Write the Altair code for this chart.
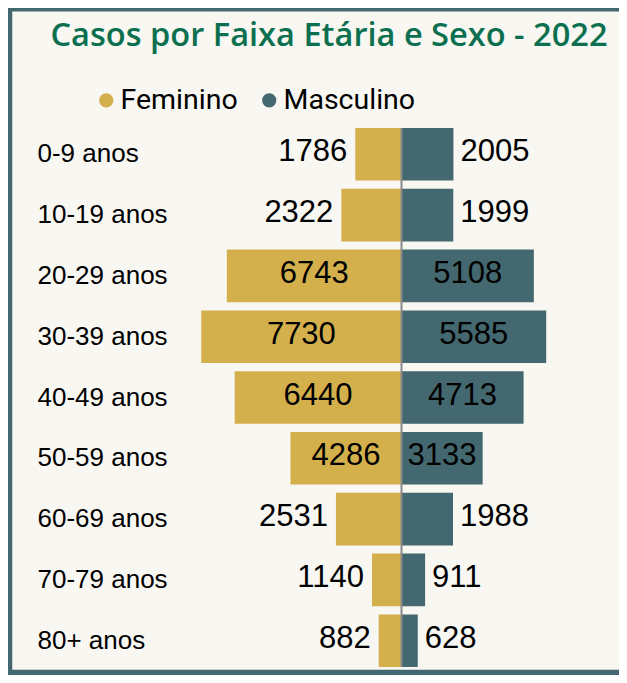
import altair as alt
import pandas as pd

TITLE = "Casos por Faixa Etária e Sexo - 2022"
AGES = ["0-9 anos", "10-19 anos", "20-29 anos", "30-39 anos", "40-49 anos",
        "50-59 anos", "60-69 anos", "70-79 anos", "80+ anos"]
FEMININO = [1786, 2322, 6743, 7730, 6440, 4286, 2531, 1140, 882]
MASCULINO = [2005, 1999, 5108, 5585, 4713, 3133, 1988, 911, 628]
SEXES = ["Feminino", "Masculino"]
COLORS = ["#d4b04c", "#44686f"]

BG = "#f8f7f2"
BORDER = "#44686f"
GREEN = "#0c7050"
W, H = 611, 667
Y0, Y1 = 120, 659

rows = []
for a, f, m in zip(AGES, FEMININO, MASCULINO):
    rows.append({"faixa": a, "sexo": "Feminino", "casos": f})
    rows.append({"faixa": a, "sexo": "Masculino", "casos": m})
df = pd.DataFrame(rows)

xscale = alt.Scale(domain=[-393.5 * 38.6, (W - 393.5) * 38.6], nice=False, zero=False)
yscale = alt.Scale(range=[Y0, Y1], paddingInner=0.135, paddingOuter=0)

base = alt.Chart(df).transform_calculate(
    sx="datum.sexo == 'Feminino' ? -datum.casos : datum.casos",
    mid="(datum.sexo == 'Feminino' ? -datum.casos : datum.casos) / 2",
)

y_enc = alt.Y(
    "faixa:N", sort=AGES, scale=yscale, title=None,
    axis=alt.Axis(domain=False, ticks=False, labelAlign="left", labelPadding=0,
                  offset=-29, labelFont="Liberation Sans", labelFontSize=26,
                  labelColor="#000000", labelBaseline="middle"),
)

bars = base.mark_bar().encode(
    x=alt.X("sx:Q", scale=xscale, axis=None),
    x2=alt.datum(0),
    y=y_enc,
    color=alt.Color(
        "sexo:N",
        scale=alt.Scale(domain=SEXES, range=COLORS),
        legend=alt.Legend(
            title=None, orient="none", legendX=84, legendY=78, direction="horizontal",
            symbolType="circle", symbolSize=200, symbolStrokeWidth=0, symbolOpacity=1,
            labelFont="Roboto", labelFontSize=28.5, labelColor="#000000",
            labelOffset=0, columnPadding=17,
        ),
    ),
)

label_style = dict(font="Liberation Sans", fontSize=31, color="#000000", baseline="middle", dy=-2)

inside = base.transform_filter("datum.casos >= 3000").mark_text(align="center", **label_style).encode(
    x=alt.X("mid:Q", scale=xscale, axis=None), y=alt.Y("faixa:N", sort=AGES), text="casos:Q"
)
out_f = base.transform_filter("datum.casos < 3000 && datum.sexo == 'Feminino'").mark_text(
    align="right", dx=-8, **label_style
).encode(x=alt.X("sx:Q", scale=xscale, axis=None), y=alt.Y("faixa:N", sort=AGES), text="casos:Q")
out_m = base.transform_filter("datum.casos < 3000 && datum.sexo == 'Masculino'").mark_text(
    align="left", dx=7, **label_style
).encode(x=alt.X("sx:Q", scale=xscale, axis=None), y=alt.Y("faixa:N", sort=AGES), text="casos:Q")

center = alt.Chart(pd.DataFrame({"z": [0]})).mark_rule(color="#8a8a8a", strokeWidth=2).encode(
    x=alt.X("z:Q", scale=xscale, axis=None), y=alt.value(Y0), y2=alt.value(Y1)
)

title = alt.Chart(pd.DataFrame({"t": [TITLE]})).mark_text(
    font="Open Sans", fontSize=32.6, fontWeight=600, color=GREEN, align="center", baseline="alphabetic"
).encode(text="t:N", x=alt.value(321), y=alt.value(38))

frame = alt.Chart(pd.DataFrame({"z": [0]}))
b_left = frame.mark_rule(color=BORDER, strokeWidth=5.5).encode(
    x=alt.value(1.5), y=alt.value(-5), y2=alt.value(H + 5))
b_top = frame.mark_rule(color=BORDER, strokeWidth=6).encode(
    y=alt.value(0.5), x=alt.value(-5), x2=alt.value(W + 5))
b_bottom = frame.mark_rule(color=BORDER, strokeWidth=5.5).encode(
    y=alt.value(H - 2.5), x=alt.value(-5), x2=alt.value(W + 5))

chart = alt.layer(bars, center, inside, out_f, out_m, title, b_left, b_top, b_bottom).properties(
    width=W, height=H, autosize=alt.AutoSizeParams(type="none"), padding=0, background=BG,
).configure_view(stroke=None)

chart.save("out.html", embed_options={"renderer": "svg", "actions": False})
